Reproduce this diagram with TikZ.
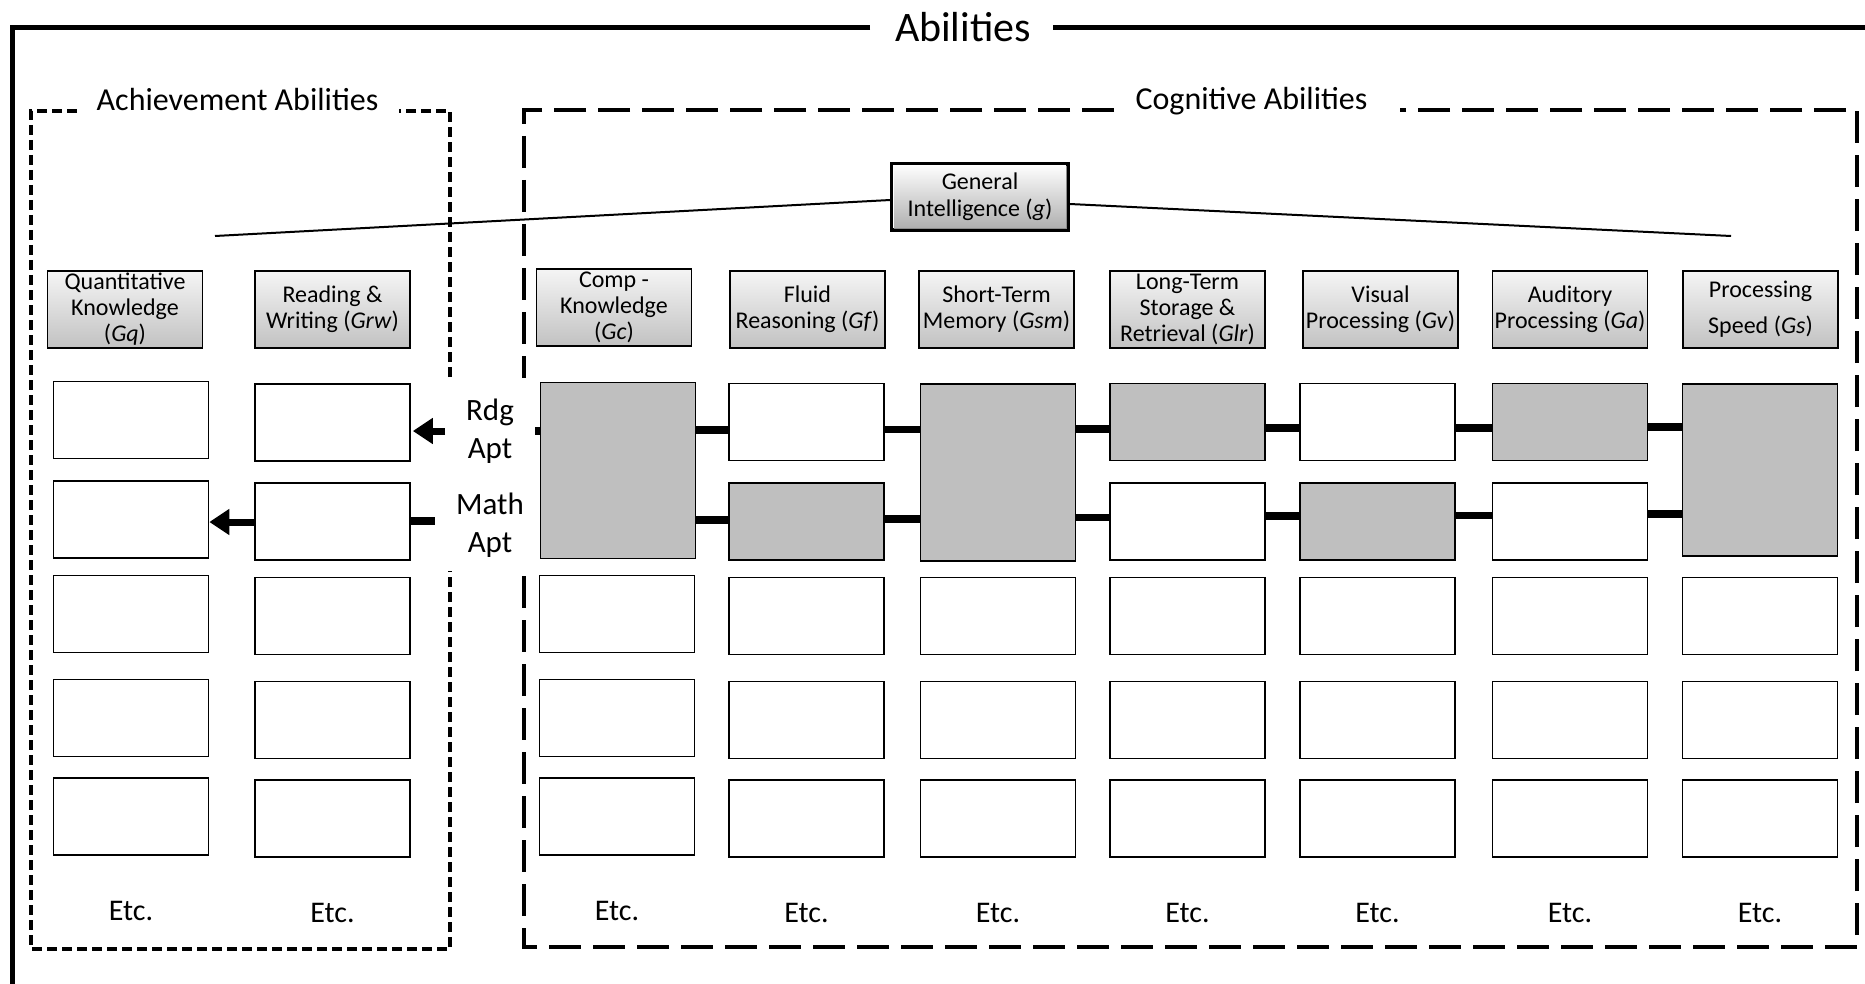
\documentclass[tikz,border=0pt]{standalone}
\usepackage{fontspec}
\setmainfont{Carlito}
\usetikzlibrary{arrows.meta}
\begin{document}
\begin{tikzpicture}[x=1pt,y=-1pt,
  hdr/.style={draw=black, line width=1.6pt, top color=white!96!black, bottom color=black!24,
    minimum width=155pt, minimum height=77pt, inner sep=0pt, align=center,
    font=\fontsize{24}{26}\selectfont},
  cell/.style={draw=black, line width=1.8pt, fill=white, minimum width=155pt, minimum height=77pt, inner sep=0pt},
  gcell/.style={cell, fill=black!25},
  conn/.style={line width=7.5pt},
  arr/.style={line width=7pt, -{Triangle[length=20pt,width=25pt]}},
  gline/.style={line width=2pt},
  lab/.style={align=center, inner sep=0pt, font=\fontsize{31}{38}\selectfont},
  etc/.style={inner sep=0pt, font=\fontsize{30}{34}\selectfont},
  grp/.style={inner sep=0pt, font=\fontsize{32}{36}\selectfont},
  achline/.style={line width=3.2pt, dash pattern=on 10pt off 5pt},
  cogline/.style={line width=4pt, dash pattern=on 32pt off 12pt}
]
\useasboundingbox (0,0) rectangle (1865,984);

% outer frame
\draw[line width=5pt] (870,28) -- (12,28) -- (12,984);
\draw[line width=5pt] (1053,28) -- (1865,28);
\node[inner sep=0pt, font=\fontsize{42}{48}\selectfont] (title) at (963,27) {Abilities};

% group boxes
\draw[achline] (77,111) -- (31,111) -- (31,949) -- (450,949) -- (450,111) -- (399,111);
\node[grp, anchor=base] (ach) at (237.5,111) {Achievement Abilities};
\draw[cogline] (1114,110) -- (524,110) -- (524,947) -- (1857,947) -- (1857,110) -- (1400,110);
\node[grp, anchor=base] (cog) at (1251.5,110) {Cognitive Abilities};
% white band behind the aptitude labels (breaks both dashed borders)
\fill[white] (446,378) rectangle (529,571);

% general intelligence
\coordinate (gl) at (215,236);
\coordinate (gr) at (1731,236);
\node[draw=black, line width=3.5pt, top color=white, bottom color=black!32,
  minimum width=176pt, minimum height=66pt, inner sep=0pt, align=center,
  font=\fontsize{24}{27}\selectfont] (gi) at (980,197) {General\\Intelligence (\textit{g})};
\draw[black!45, line width=1.2pt] ([shift={(3.5pt,3.5pt)}]gi.south west) -- ([shift={(-3.5pt,3.5pt)}]gi.south east) -- ([shift={(-3.5pt,-3.5pt)}]gi.north east);
\draw[white, line width=1.2pt] ([shift={(3.5pt,3.5pt)}]gi.south west) -- ([shift={(3.5pt,-3.5pt)}]gi.north west) -- ([shift={(-3.5pt,-3.5pt)}]gi.north east);
\draw[gline] (gl) -- ([yshift=-3pt]gi.west);
\draw[gline] ([yshift=-7pt]gi.east) -- (gr);

% broad abilities
\node[hdr] (hqk) at (125,309.5) {Quantitative\\Knowledge\\(\textit{Gq})};
\node[hdr] (hrw) at (332.5,309.5) {Reading \&\\Writing (\textit{Grw})};
\node[hdr] (hcm) at (614,307.5) {Comp -\\Knowledge\\(\textit{Gc})};
\node[hdr] (hfl) at (807.5,309.5) {Fluid\\Reasoning (\textit{Gf})};
\node[hdr] (hst) at (996.5,309.5) {Short-Term\\Memory (\textit{Gsm})};
\node[hdr] (hlt) at (1187.5,309.5) {Long-Term\\Storage \&\\Retrieval (\textit{Glr})};
\node[hdr] (hvi) at (1380.5,309.5) {Visual\\Processing (\textit{Gv})};
\node[hdr] (hau) at (1570,309.5) {Auditory\\Processing (\textit{Ga})};
\node[hdr] (hps) at (1760.5,309.5) {Processing\\[10pt]Speed (\textit{Gs})};

% lower rows (white)
\foreach \n/\x/\dy in {qk/131/2, rw/332.5/0, cm/617/2, fl/806.5/0, st/998/0, lt/1187.5/0, vi/1377.5/0, au/1570/0, ps/1760/0} {
  \foreach \r/\y in {3/616, 4/720, 5/818.5} {
    \node[cell] (\n\r) at (\x,\y-\dy) {};
  }
  \node[etc] (etc\n) at (\x,913-\dy) {Etc.};
}

% rows 1-2, achievement
\node[cell] (qk1) at (131,420) {};
\node[cell] (qk2) at (131,519.5) {};
\node[cell] (rw1) at (332.5,422.5) {};
\node[cell] (rw2) at (332.5,521.5) {};

% rows 1-2, cognitive
\node[gcell, minimum height=176pt] (cm12) at (618,470.5) {};
\node[cell] (fl1) at (806.5,422) {};
\node[gcell] (fl2) at (806.5,521.5) {};
\node[gcell, minimum height=177pt] (st12) at (998,472.5) {};
\node[gcell] (lt1) at (1187.5,422) {};
\node[cell] (lt2) at (1187.5,521.5) {};
\node[cell] (vi1) at (1377.5,422) {};
\node[gcell] (vi2) at (1377.5,521.5) {};
\node[gcell] (au1) at (1570,422) {};
\node[cell] (au2) at (1570,521.5) {};
\node[gcell, minimum height=172.5pt] (ps12) at (1760,470) {};

% connectors
\foreach \a/\b/\y in {cm12/fl1/430, fl1/st12/429.5, st12/lt1/429, lt1/vi1/428, vi1/au1/428, au1/ps12/427,
                      cm12/fl2/520, fl2/st12/519, st12/lt2/517.5, lt2/vi2/516, vi2/au2/515.5, au2/ps12/514} {
  \coordinate (t) at (0,\y);
  \draw[conn] (\a.east |- t) -- (\b.west |- t);
}

% aptitude labels and arrows
\node[lab] (rdg) at (490,431.5) {Rdg\\Apt};
\node[lab] (math) at (490,525) {Math\\Apt};
\coordinate (rdgs) at (445,431);
\draw[arr, shorten >=2pt] (rdgs) -- (rdgs -| rw1.east);
\coordinate (rdgc) at (535,431);
\draw[conn] (rdgc) -- (rdgc -| cm12.west);
\coordinate (mths) at (435,521);
\draw[conn] (rw2.east |- mths) -- (mths);
\coordinate (mthy) at (0,522);
\draw[arr] (rw2.west |- mthy) -- (qk2.east |- mthy);
\end{tikzpicture}
\end{document}
